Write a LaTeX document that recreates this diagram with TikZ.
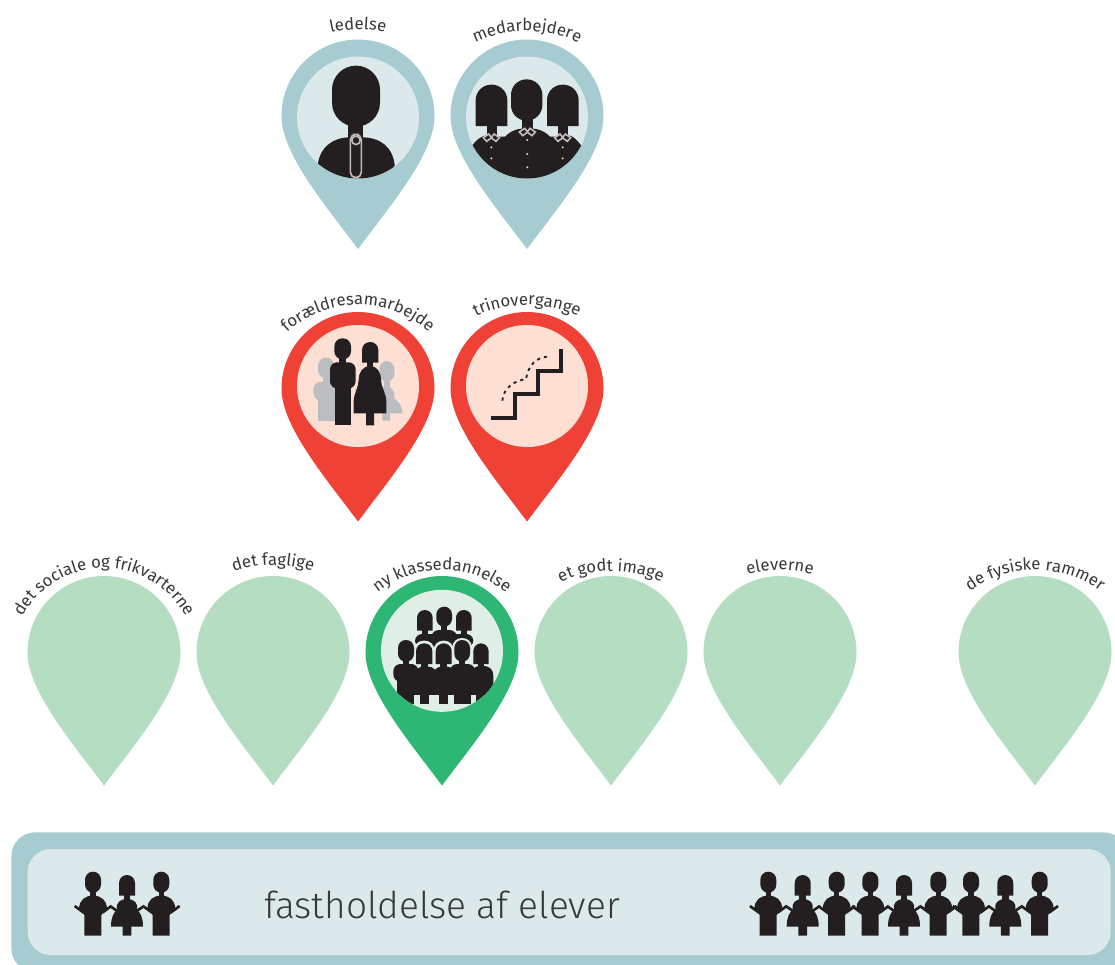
\documentclass[tikz,border=0pt]{standalone}
\usepackage{fontspec}
\setmainfont{Fira Sans Light}
\newfontfamily\labelface{Fira Sans}
\usetikzlibrary{decorations.text}
\definecolor{bluedark}{HTML}{A6CCD2}
\definecolor{bluelight}{HTML}{DBE9EA}
\definecolor{reddark}{HTML}{F04136}
\definecolor{redlight}{HTML}{FDDFD3}
\definecolor{greendark}{HTML}{2DB674}
\definecolor{greenlight}{HTML}{DFEFE5}
\definecolor{greenpale}{HTML}{B5DDC2}
\definecolor{ink}{HTML}{231F20}
\definecolor{txt}{HTML}{38383A}
\definecolor{collar}{HTML}{C4BCBC}
\definecolor{ghost}{HTML}{BBBDC0}
\tikzset{
  figure/.style={fill=ink,draw=none},
  trim/.style={draw=collar,fill=none,line width=1.6pt},
  rim/.style={draw=greenlight,line width=1.2pt},
}
% pin: centre x, centre y, colour
\newcommand{\pinat}[3]{%
  \fill[#3] (#1-76.5,#2) arc[start angle=180,end angle=0,radius=76.5pt]
    .. controls (#1+76.5,#2+38) and (#1+32,#2+90) .. (#1,#2+133)
    .. controls (#1-32,#2+90) and (#1-76.5,#2+38) .. cycle;}
% curved label: text, centre x, baseline y at top, radius
\newcommand{\arclabel}[4]{%
  \path[decorate,decoration={text along path,text align=center,
     text={|\labelface\fontsize{16.7}{17}\selectfont\color{txt}|#1}}]
     (#2-#4,#3+#4) arc[start angle=180,end angle=0,radius=#4pt];}
% small people, local units = 1/3 px, y is zoom y in the banner
\newcommand{\kidman}[1]{%
 \begin{scope}[x=.33333pt,y=-.33333pt,shift={(#1pt,-820pt)}]
  \fill[figure] (-24,155) [rounded corners=8pt] rectangle (24,218);
  \fill[figure] (-8,210) rectangle (8,235);
  \fill[figure] (-42,265) .. controls (-40,240) and (-25,227) .. (0,227)
     .. controls (25,227) and (40,240) .. (42,265) -- (25,285) -- (25,347)
     -- (-26,347) -- (-26,285) -- cycle;
  \draw[ink,line width=2.6pt] (-28,278) -- (-55,258) (28,278) -- (55,258);
 \end{scope}}
\newcommand{\kidwoman}[1]{%
 \begin{scope}[x=.33333pt,y=-.33333pt,shift={(#1pt,-820pt)}]
  \fill[figure] (-24,227) [rounded corners=8pt] -- (-24,165) -- (24,165) [sharp corners] -- (24,227) -- cycle;
  \fill[figure] (-10,220) rectangle (10,245);
  \fill[figure] (0,237) .. controls (-22,237) and (-34,250) .. (-30,268)
     .. controls (-40,280) and (-48,290) .. (-48,320) -- (-13,320) -- (-13,347)
     -- (13,347) -- (13,320) -- (48,320) .. controls (48,290) and (40,280) .. (30,268)
     .. controls (34,250) and (22,237) .. (0,237) -- cycle;
  \draw[ink,line width=2.6pt] (-25,276) -- (-51,258) (25,276) -- (51,258);
 \end{scope}}
% zoomed-coordinate heads
\newcommand{\roundhead}[5]{\fill[figure,rounded corners=#5pt] (#1,#2) rectangle (#3,#4);}
\newcommand{\bobhead}[5]{\fill[figure] (#1,#4) [rounded corners=#5pt] -- (#1,#2) -- (#3,#2) [sharp corners] -- (#3,#4) -- cycle;}
\begin{document}
\begin{tikzpicture}[x=1pt,y=-1pt]
\useasboundingbox (0,0) rectangle (1115,964);
\clip (0,0) rectangle (1115,964);
\fill[white] (0,0) rectangle (1115,964);

% ---- row 1
\pinat{358}{116}{bluedark}
\pinat{527}{116}{bluedark}
\fill[bluelight] (358,117.5) circle[radius=61pt];
\fill[bluelight] (527,117.5) circle[radius=61pt];
\arclabel{ledelse}{358}{29.5}{120}
\arclabel{medarbejdere}{527}{31}{120}

\begin{scope}
 \clip (358,117.5) circle[radius=61pt];
 \begin{scope}[x=.33333pt,y=-.33333pt,shift={(270pt,0pt)}]
  \roundhead{186}{197}{330}{380}{24}
  \fill[figure] (235,370) rectangle (280,430);
  \fill[figure] (143,495) .. controls (150,440) and (190,412) .. (240,412) -- (275,412)
     .. controls (330,412) and (368,440) .. (374,495) -- (374,560) -- (143,560) -- cycle;
  \draw[trim,rounded corners=5.5pt] (241,403) rectangle (274,533);
  \draw[trim] (258,421) circle[radius=4.2pt];
 \end{scope}
\end{scope}

\begin{scope}
 \clip (527,117.5) circle[radius=61pt];
 \begin{scope}[x=.33333pt,y=-.33333pt,shift={(270pt,0pt)}]
  \bobhead{617}{254}{712}{378}{15.5}
  \bobhead{831}{254}{926}{378}{15.5}
  \roundhead{723}{238}{817}{362}{15.5}
  \fill[figure] (652,370) rectangle (682,420);
  \fill[figure] (865,370) rectangle (895,420);
  \fill[figure] (755,350) rectangle (790,395);
  \fill[figure] (600,445) .. controls (615,425) and (630,405) .. (660,405) -- (680,410)
     -- (705,410) .. controls (725,390) and (745,385) .. (772,385)
     .. controls (800,385) and (820,390) .. (840,410) -- (865,410) -- (890,405)
     .. controls (910,405) and (925,425) .. (940,445) -- (940,560) -- (600,560) -- cycle;
  \foreach \cx in {664,772,878}{
    \begin{scope}[shift={(\cx,0)}]
    \ifnum\cx=772 \def\yc{395}\else\def\yc{412}\fi
    \draw[trim] (-8,\yc-10) -- (-24,\yc+1) -- (-14,\yc+12) -- (1,\yc+1) -- cycle;
    \draw[trim] (8,\yc-10) -- (24,\yc+1) -- (14,\yc+12) -- (-1,\yc+1) -- cycle;
    \end{scope}}
  \foreach \dx/\dy in {664/442,664/475,772/420,772/462,772/502,878/442,878/475}
    \fill[collar!60!white] (\dx,\dy) circle[radius=1.1pt];
 \end{scope}
\end{scope}

% ---- row 2
\pinat{358}{388.5}{reddark}
\pinat{527}{388.5}{reddark}
\fill[redlight] (358,386) circle[radius=61pt];
\fill[redlight] (527,386) circle[radius=61pt];
\arclabel{forældresamarbejde}{358}{305}{105}
\arclabel{trinovergange}{527}{305}{120}

\begin{scope}[x=.33333pt,y=-.33333pt,shift={(270pt,-280pt)}]
  % ghosts
  \fill[ghost,rounded corners=8pt] (144,233) rectangle (192,295);
  \fill[ghost] (158,290) rectangle (180,315);
  \fill[ghost,rounded corners=8pt] (130,305) rectangle (200,362);
  \fill[ghost] (143,340) rectangle (200,422);
  \fill[ghost,rounded corners=8pt] (328,243) rectangle (373,305);
  \fill[ghost] (342,300) rectangle (360,330);
  \fill[ghost] (350,320) .. controls (372,320) and (375,345) .. (372,355)
     .. controls (385,365) and (397,375) .. (397,400) -- (360,400) -- (360,422) -- (337,422) -- (337,320) -- cycle;
  % man
  \roundhead{193}{175}{243}{238}{8}
  \fill[figure] (208,230) rectangle (228,255);
  \fill[figure,rounded corners=7pt] (180,247) rectangle (257,325);
  \fill[figure] (195,300) rectangle (243,436);
  % woman
  \bobhead{276}{186}{325}{248}{8}
  \fill[figure] (290,240) rectangle (310,270);
  \fill[figure] (300,258) .. controls (280,258) and (266,275) .. (266,300)
     .. controls (266,322) and (251,340) .. (251,365) -- (251,400) -- (288,400) -- (288,436)
     -- (312,436) -- (312,400) -- (349,400) -- (349,365)
     .. controls (349,340) and (333,322) .. (333,300)
     .. controls (333,275) and (320,258) .. (300,258) -- cycle;
  % stairs
  \draw[ink,line width=4pt] (662,413) -- (736,413) -- (736,342) -- (805,342) -- (805,272) -- (872,272) -- (872,208);
  \draw[ink,line width=1.8pt,dash pattern=on 3.2pt off 4pt]
     (697,362) .. controls (700,325) and (730,303) .. (768,297)
     .. controls (775,255) and (800,232) .. (832,230);
\end{scope}

% ---- row 3
\foreach \px in {104,273,611,780,1035}{\pinat{\px}{652.5}{greenpale}}
\pinat{442}{652.5}{greendark}
\fill[greenlight] (442,650.8) circle[radius=61pt];
\arclabel{det sociale og frikvarterne}{104}{568}{93}
\arclabel{det faglige}{273}{565}{120}
\arclabel{ny klassedannelse}{442}{570}{102}
\arclabel{et godt image}{611}{571}{120}
\arclabel{eleverne}{780}{570}{120}
\arclabel{de fysiske rammer}{1035}{570}{110}

\begin{scope}
 \clip (442,650.8) circle[radius=61pt];
 \begin{scope}[x=.33333pt,y=-.33333pt,shift={(350pt,-560pt)}]
  % back row
  \bobhead{201}{150}{248}{212}{7.8}
  \bobhead{318}{150}{365}{212}{7.8}
  \roundhead{259}{140}{306}{200}{7.8}
  \fill[figure] (216,205) rectangle (233,225);
  \fill[figure] (333,205) rectangle (350,225);
  \fill[figure] (274,195) rectangle (291,215);
  \fill[figure,rounded corners=7pt] (195,222) rectangle (370,262);
  \fill[figure,rounded corners=8pt] (243,210) rectangle (322,262);
  % pale arcs over the front heads
  \foreach \a/\b/\t in {198/247/248,257/305/248,313/360/240}
    \draw[rim,rounded corners=8.6pt,fill=greenlight] (\a-4,295) -- (\a-4,\t-4) -- (\b+4,\t-4) -- (\b+4,295);
  % front row bodies
  \fill[figure,rounded corners=7pt] (130,312) rectangle (205,365);
  \fill[figure] (142,340) rectangle (192,432);
  \fill[figure] (142,335) rectangle (425,405);
  \fill[figure,rounded corners=7pt] (300,312) rectangle (375,365);
  \fill[figure,rounded corners=8pt] (195,320) rectangle (260,365);
  \fill[figure,rounded corners=8pt] (250,320) rectangle (315,365);
  \fill[figure,rounded corners=9pt] (362,318) rectangle (430,400);
  \fill[figure] (210,400) rectangle (238,432);
  \fill[figure] (267,400) rectangle (295,432);
  \fill[figure] (312,400) rectangle (362,432);
  \fill[figure] (378,400) rectangle (410,432);
  % front heads
  \foreach \a/\b in {198/247,257/305,370/416}{
    \bobhead{\a}{250}{\b}{312}{7.8}
    \fill[figure] (\a+14,305) rectangle (\b-14,330);}
  \foreach \a/\b in {144/192,313/360}{
    \roundhead{\a}{240}{\b}{305}{7.8}
    \fill[figure] (\a+14,300) rectangle (\b-14,320);}
 \end{scope}
\end{scope}

% ---- banner
\fill[bluedark,rounded corners=24pt] (11.3,832.3) rectangle (1127,972);
\fill[bluelight,rounded corners=23pt] (27.7,849) rectangle (1110.7,955);
\node[font=\fontsize{37}{38}\selectfont,text=txt,anchor=base] (banner) at (442,918) {fastholdelse af elever};
\kidman{93}\kidwoman{127}\kidman{161.3}
\kidman{768.3}\kidwoman{802.7}\kidman{836.7}\kidman{870.3}\kidwoman{904}\kidman{938.3}\kidman{971}\kidwoman{1005.3}\kidman{1039.7}
\end{tikzpicture}
\end{document}
